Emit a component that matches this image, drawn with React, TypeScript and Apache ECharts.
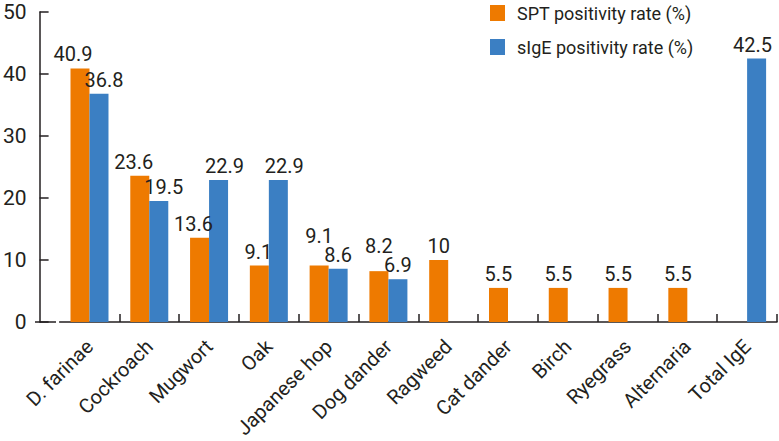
import React, { useEffect, useRef } from "react";
import * as echarts from "echarts";

const categories = [
  "D. farinae",
  "Cockroach",
  "Mugwort",
  "Oak",
  "Japanese hop",
  "Dog dander",
  "Ragweed",
  "Cat dander",
  "Birch",
  "Ryegrass",
  "Alternaria",
  "Total IgE",
];
const sptValues: (number | null)[] = [40.9, 23.6, 13.6, 9.1, 9.1, 8.2, 10, 5.5, 5.5, 5.5, 5.5, null];
const sigeValues: (number | null)[] = [36.8, 19.5, 22.9, 22.9, 8.6, 6.9, null, null, null, null, null, 42.5];
const yTicks = [0, 10, 20, 30, 40, 50];

// label nudges (styling only)
const sptLabelShift: [number, number][] = [
  [-7, 0], [-6, 0], [-6, 0], [-1, 0], [0, -16], [0, -11], [0, 0], [0, 0], [0, 0], [0, 0], [0, 0], [0, 0],
];
const sigeLabelShift: [number, number][] = [
  [5, 0], [5, 0], [6, 0], [6, 0], [0, 0], [0, 0], [0, 0], [0, 0], [0, 0], [0, 0], [0, 0], [-4, 0],
];

const FONT = 'Roboto, "Liberation Sans", sans-serif';
const TEXT = "#231F20";
const ORANGE = "#EE7A00";
const BLUE = "#3B7FC3";

export default function App() {
  const ref = useRef<HTMLDivElement>(null);
  useEffect(() => {
    if (!ref.current) return;
    const chart = echarts.init(ref.current, null, { renderer: "svg" });
    const toData = (vals: (number | null)[], shifts: [number, number][]) =>
      vals.map((v, i) => (v == null ? "-" : { value: v, label: { offset: shifts[i] } }));
    const barLabel = {
      show: true,
      position: "top",
      distance: 4,
      fontSize: 20,
      lineHeight: 20,
      color: TEXT,
      fontFamily: FONT,
    };
    chart.setOption({
      animation: false,
      textStyle: { fontFamily: FONT, color: TEXT },
      legend: {
        orient: "vertical",
        left: 490,
        top: 3,
        padding: 0,
        itemGap: 14,
        itemWidth: 15,
        itemHeight: 16,
        icon: "rect",
        textStyle: { fontFamily: FONT, fontSize: 18, color: TEXT, lineHeight: 20, padding: [0, 0, 0, 7] },
        data: ["SPT positivity rate (%)", "sIgE positivity rate (%)"],
      },
      grid: { left: 55, right: 2, top: 12, bottom: 119, containLabel: false },
      graphic: [
        {
          type: "line",
          shape: { x1: 35, y1: 322, x2: 56, y2: 322 },
          style: { stroke: TEXT, lineWidth: 1.5 },
          silent: true,
        },
      ],
      xAxis: {
        type: "category",
        data: categories,
        axisLine: { show: true, lineStyle: { color: TEXT, width: 1.5 } },
        axisTick: {
          show: true,
          inside: true,
          length: 8,
          interval: (index: number) => index !== 0,
          lineStyle: { color: TEXT, width: 1.5 },
        },
        axisLabel: {
          rotate: 45,
          fontSize: 20,
          margin: 21,
          color: TEXT,
          fontFamily: FONT,
          interval: 0,
        },
      },
      yAxis: {
        type: "value",
        min: yTicks[0],
        max: yTicks[yTicks.length - 1],
        interval: 10,
        offset: 20,
        splitLine: { show: false },
        axisLine: { show: true, lineStyle: { color: TEXT, width: 1.5 } },
        axisTick: { show: true, inside: true, length: 9, lineStyle: { color: TEXT, width: 1.5 } },
        axisLabel: { fontSize: 21, margin: 13, color: TEXT, fontFamily: FONT },
      },
      series: [
        {
          name: "SPT positivity rate (%)",
          type: "bar",
          barWidth: 19,
          barGap: "0%",
          itemStyle: { color: ORANGE },
          label: barLabel,
          data: toData(sptValues, sptLabelShift),
        },
        {
          name: "sIgE positivity rate (%)",
          type: "bar",
          barWidth: 19,
          barGap: "0%",
          itemStyle: { color: BLUE },
          label: barLabel,
          data: toData(sigeValues, sigeLabelShift),
        },
      ],
    });
    return () => chart.dispose();
  }, []);
  return (
    <div
      ref={ref}
      style={{ position: "absolute", left: 0, top: 0, width: 779, height: 441 }}
    />
  );
}
